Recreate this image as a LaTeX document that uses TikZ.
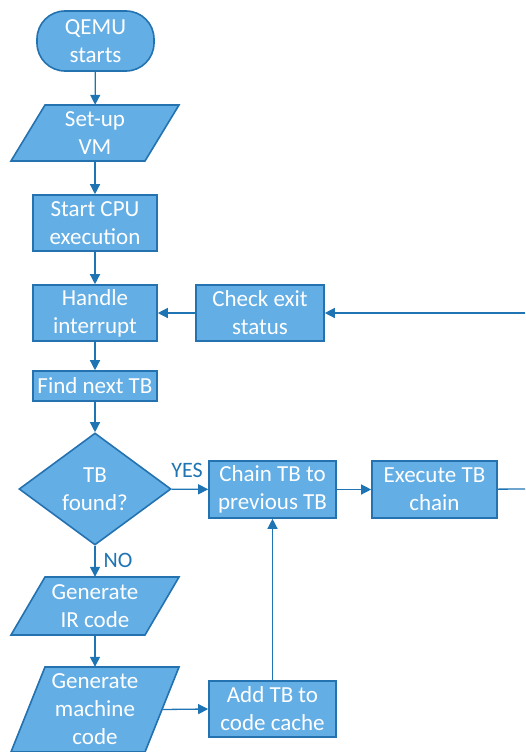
\documentclass[tikz,border=0pt]{standalone}
\usepackage{fontspec}
\setmainfont{Carlito}
\usetikzlibrary{arrows.meta,shapes.geometric}
\definecolor{boxfill}{RGB}{99,174,229}
\definecolor{boxline}{RGB}{36,114,176}
\definecolor{conn}{RGB}{31,116,179}
\begin{document}
\begin{tikzpicture}[x=1pt,y=-1pt,
  txt/.style={text=white,font=\fontsize{23}{28}\selectfont,align=center,inner sep=0pt},
  boxstyle/.style={txt,draw=boxline,fill=boxfill,line width=1.6pt},
  procbox/.style={boxstyle,rectangle,minimum width=124pt,minimum height=56pt},
  ghost/.style={txt,rectangle,minimum width=134pt,minimum height=56pt},
  shapeline/.style={draw=boxline,fill=boxfill,line width=1.6pt,line join=miter},
  arr/.style={draw=conn,line width=1.3pt,-{Triangle[length=10pt,width=10pt]}},
  plain/.style={draw=conn,line width=1.3pt},
  lbl/.style={text=conn,font=\fontsize{22}{24}\selectfont,inner sep=0pt}
]
\useasboundingbox (0,0) rectangle (525,752);
% Terminal
\node[boxstyle,rectangle,rounded corners=28pt,minimum width=117pt,minimum height=60pt] (qemu) at (95.5,41) {QEMU\\starts};
% Set-up VM (parallelogram)
\path[shapeline] (45,105) -- (179,105) -- (145,161) -- (11,161) -- cycle;
\node[ghost] (setup) at (95,133) {Set-up\\VM};
% Start CPU
\node[procbox] (start) at (95,223) {Start CPU\\execution};
% Handle interrupt
\node[procbox] (handle) at (95,313) {Handle\\interrupt};
% Check exit status
\node[procbox,minimum width=128pt] (check) at (260,313) {Check exit\\status};
\coordinate (rin) at (525,313);
% Find next TB
\node[procbox,minimum height=30pt] (find) at (95,386) {Find next TB};
% Diamond
\node[boxstyle,diamond,minimum width=152pt,minimum height=112pt,aspect=1.357] (found) at (95,489) {TB\\found?};
% Chain
\node[procbox,minimum width=127pt,minimum height=57pt] (chain) at (272.5,489.5) {Chain TB to\\previous TB};
% Execute
\node[procbox,minimum width=125pt,minimum height=57pt] (exec) at (434.5,489.5) {Execute TB\\chain};
\coordinate (rout) at (525,489);
% Generate IR
\path[shapeline] (45,577) -- (179,577) -- (145,635) -- (11,635) -- cycle;
\node[ghost,minimum height=58pt] (genir) at (95,606) {Generate\\IR code};
% Generate machine code
\path[shapeline] (45,667) -- (179,667) -- (145,752) -- (11,752) -- cycle;
\node[ghost,minimum height=85pt] (genmc) at (95,709.5) {Generate\\machine\\code};
% Add TB
\node[procbox,minimum width=127pt,minimum height=56pt] (add) at (272.5,709) {Add TB to\\code cache};
% Connectors
\draw[arr] (qemu) -- (setup);
\draw[arr] (setup) -- (start);
\draw[arr] (start) -- (handle);
\draw[arr] (handle) -- (find);
\draw[arr] (find) -- (found);
\draw[arr] (check) -- (handle);
\draw[arr] (rin) -- (check);
\draw[arr] (found) -- (chain);
\draw[arr] (chain) -- (exec);
\draw[plain] (exec) -- (rout);
\draw[arr] (found) -- (genir);
\draw[arr] (genir) -- (genmc);
\draw[arr] (genmc.east) -- (add.west);
\draw[arr] (add) -- (chain);
% Labels
\node[lbl] at (187,470) {YES};
\node[lbl] at (118,560) {NO};
\end{tikzpicture}
\end{document}
